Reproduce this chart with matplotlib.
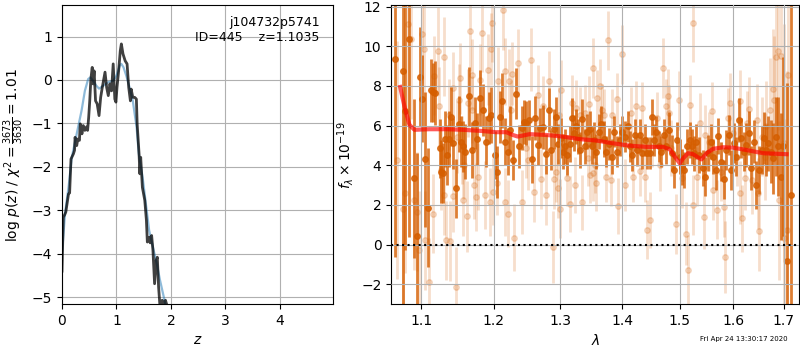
import matplotlib as mpl
mpl.use('agg')

import matplotlib.pyplot as plt
from matplotlib.ticker import NullLocator

# ---- left panel: log p(z)
z_pz = [0.0, 0.024, 0.05, 0.07, 0.12, 0.14, 0.165, 0.21, 0.23, 0.24, 0.27, 0.29, 0.32, 0.335,
        0.366, 0.39, 0.42, 0.45, 0.47, 0.49, 0.51, 0.53, 0.555, 0.57, 0.59, 0.616, 0.646, 0.68,
        0.71, 0.74, 0.79, 0.82, 0.85, 0.88, 0.91, 0.94, 0.97, 0.99, 1.01, 1.04, 1.07, 1.09,
        1.12, 1.16, 1.195, 1.225, 1.256, 1.27, 1.30, 1.335, 1.366, 1.38, 1.415, 1.43, 1.445,
        1.476, 1.52, 1.55, 1.567, 1.60, 1.62, 1.646, 1.67, 1.70, 1.73, 1.75, 1.774, 1.80,
        1.84, 1.87, 1.90, 1.93]
logp = [-4.4, -3.16, -3.1, -3.04, -2.62, -2.6, -1.82, -1.70, -1.62, -1.32, -1.51, -1.36, -1.39,
        -1.01, -1.24, -1.05, -1.16, -1.08, -1.16, -0.86, -0.47, 0.02, 0.29, -0.09, 0.21, -0.48,
        -0.55, -0.82, -0.40, -0.17, 0.18, -0.17, -0.36, -0.09, -0.25, 0.37, -0.44, -0.51, -0.17,
        0.21, 0.67, 0.83, 0.60, 0.44, 0.37, -0.17, -0.48, -0.21, -0.40, -0.40, -0.44, -1.01,
        -1.70, -2.16, -1.78, -2.47, -2.77, -3.23, -3.73, -3.62, -3.75, -3.58, -3.92, -4.69,
        -4.15, -4.08, -4.77, -5.23, -5.07, -5.15, -5.07, -5.2]

z_smooth = [0.0, 0.055, 0.12, 0.18, 0.27, 0.36, 0.42, 0.48, 0.52, 0.57, 0.63, 0.68, 0.76, 0.85,
            0.94, 1.0, 1.06, 1.09, 1.13, 1.18, 1.24, 1.30, 1.37, 1.41, 1.48, 1.54, 1.60, 1.67,
            1.74, 1.80, 1.87, 1.91]
logp_smooth = [-4.0, -3.08, -2.47, -1.78, -1.24, -0.70, -0.25, 0.02, 0.06, -0.02, -0.13, -0.20,
               -0.13, -0.05, -0.02, 0.10, 0.33, 0.37, 0.29, 0.10, -0.17, -0.48, -1.09, -1.70,
               -2.24, -2.85, -3.46, -3.85, -4.23, -4.61, -5.0, -5.23]

# ---- right panel: binned spectrum (dark)
lam_bin = [1.0656, 1.0759, 1.0794, 1.0837, 1.0903, 1.0942, 1.0978, 1.1013, 1.1048, 1.1088,
           1.1128, 1.1154, 1.1187, 1.1245, 1.1268, 1.1289, 1.1322, 1.1343, 1.1380, 1.1404,
           1.1426, 1.1467, 1.1509, 1.1542, 1.1573, 1.1601, 1.1648, 1.1690, 1.1728, 1.1760,
           1.1808, 1.1845, 1.1894, 1.1931, 1.1965,
           1.2013, 1.2046, 1.2085, 1.2124, 1.2163, 1.2202, 1.2241, 1.2281, 1.2320, 1.2369,
           1.2409, 1.2444, 1.2479, 1.2519, 1.2559, 1.2610, 1.2650, 1.2691, 1.2731, 1.2783,
           1.2824, 1.2860, 1.2896, 1.2937, 1.2963, 1.3005, 1.3041, 1.3073, 1.3104, 1.3146,
           1.3178, 1.3209, 1.3241, 1.3278, 1.3316, 1.3348, 1.3385, 1.3423, 1.3466, 1.3509,
           1.3531, 1.3574, 1.3618, 1.3656, 1.3695, 1.3738, 1.3782, 1.3827, 1.3871, 1.3916,
           1.3960, 1.4005, 1.4050, 1.4095, 1.4129, 1.4175, 1.4214, 1.4254, 1.4300, 1.4346,
           1.4386, 1.4426, 1.4473, 1.4513, 1.4554, 1.4589, 1.4636, 1.4677, 1.4718, 1.4753,
           1.4813, 1.4860, 1.4908, 1.4956, 1.5004, 1.5046, 1.5088, 1.5136, 1.5185, 1.5234,
           1.5271, 1.5308, 1.5357, 1.5431, 1.5474, 1.5524, 1.5573, 1.5617, 1.5668, 1.5718,
           1.5774, 1.5825, 1.5870, 1.5920, 1.5965, 1.6016, 1.6061, 1.6106, 1.6158, 1.6210,
           1.6256, 1.6308, 1.6354, 1.6400, 1.6452, 1.6505, 1.6552, 1.6598, 1.6638, 1.6691,
           1.6738, 1.6785, 1.6839, 1.6886, 1.6934, 1.6988, 1.7070, 1.7139]
flux_bin = [9.37, 8.78, 6.72, 10.38, 3.34, 0.42, 8.46, 7.36, 4.30, 1.87,
            7.78, 7.68, 7.65, 4.86, 3.68, 3.60, 5.32, 4.52, 5.32, 6.46,
            5.11, 2.84, 6.09, 5.20, 4.95, 4.69, 7.48, 4.78, 6.13, 5.32,
            7.39, 6.80, 5.20, 6.38, 6.55,
            4.52, 3.65, 6.43, 7.26, 5.20, 4.69, 5.79, 4.27, 7.61, 4.95,
            5.87, 6.18, 6.13, 6.30, 4.30, 6.38, 5.03, 5.87, 5.92, 4.57,
            6.80, 4.78, 5.82, 6.46, 5.08, 5.37, 4.69, 4.95, 4.52, 5.08,
            6.38, 5.62, 5.96, 5.45, 4.78, 6.33, 4.95, 5.70, 5.82, 4.95,
            5.28, 4.69, 5.70, 6.09, 5.32, 4.69, 5.08, 4.44, 5.70, 4.69,
            5.28, 5.70, 5.45, 5.96, 4.95, 4.52, 5.54, 4.78, 5.54, 4.61,
            5.28, 4.61, 4.61, 6.43, 5.28, 5.70, 4.95, 4.69, 5.54, 4.95,
            5.79, 4.61, 3.76, 5.28, 4.44, 3.93, 3.76, 4.95, 5.28, 4.95,
            4.60, 5.20, 4.52, 3.85, 3.43, 4.61, 5.20, 4.44, 3.76, 5.49,
            4.19, 3.29, 4.78, 5.54, 3.76, 5.11, 4.44, 6.30, 5.37, 4.69,
            5.03, 5.62, 3.85, 5.20, 3.00, 3.76, 4.78, 5.37, 4.78, 5.11,
            4.69, 4.35, 5.45, 4.95, 3.43, 4.95, -0.84, 2.50]
err_bin = [10, 12, 7, 10, 4, 4.2, 2.5, 2.2, 3.4, 3.0,
           1.6, 1.5, 1.6, 1.5, 1.6, 1.5, 1.4, 1.5, 1.4, 1.5,
           1.3, 1.5, 1.4, 1.3, 1.3, 1.4, 1.5, 1.4, 1.3, 1.3,
           1.4, 1.3, 1.3, 1.3, 1.4,
           1.2, 1.3, 1.3, 1.4, 1.2, 1.2, 1.2, 1.0, 1.3, 1.1,
           1.1, 1.1, 1.1, 1.0, 1.2, 1.1, 1.0, 1.0, 1.1, 1.0,
           1.1, 1.0, 1.0, 1.0, 1.0, 1.0, 0.9, 0.9, 1.0, 0.9,
           1.0, 0.9, 0.9, 0.9, 0.9, 1.0, 0.9, 0.9, 0.9, 0.9,
           0.9, 0.9, 0.9, 0.9, 0.9, 0.8, 0.8, 0.9, 0.8, 0.8,
           0.8, 0.8, 0.8, 0.8, 0.8, 0.8, 0.8, 0.8, 0.8, 0.8,
           0.8, 0.8, 0.8, 0.9, 0.8, 0.8, 0.8, 0.8, 0.8, 0.9,
           0.9, 0.9, 0.9, 0.9, 0.9, 0.9, 0.9, 0.9, 0.9, 0.9,
           0.9, 0.9, 0.9, 0.9, 1.0, 0.9, 0.9, 0.9, 1.0, 0.9,
           1.0, 1.0, 1.0, 1.0, 1.0, 1.0, 1.0, 1.1, 1.0, 1.0,
           1.1, 1.1, 1.1, 1.1, 1.2, 1.2, 1.2, 1.3, 1.3, 1.4,
           1.6, 1.8, 2.0, 2.5, 3.2, 4.5, 9, 12]

# ---- right panel: individual beams (light)
lam_beam = [1.0679, 1.0756, 1.0792, 1.0824, 1.0860, 1.0905, 1.0951, 1.0973, 1.1009, 1.1041,
            1.1055, 1.1109, 1.1154, 1.1177, 1.1222, 1.1235, 1.1267, 1.1303, 1.1312, 1.1335,
            1.1380, 1.1394, 1.1425, 1.1434, 1.1470, 1.1478, 1.1516, 1.1529, 1.1552, 1.1561,
            1.1583, 1.1620, 1.1629, 1.1665, 1.1687, 1.1696, 1.1719, 1.1742, 1.1773, 1.1809,
            1.1837, 1.1877, 1.1922, 1.1945, 1.1977,
            1.1960, 1.1992, 1.2053, 1.2069, 1.2130, 1.2165, 1.2171, 1.2206, 1.2222, 1.2257,
            1.2273, 1.2298, 1.2349, 1.2410, 1.2477, 1.2502, 1.2543, 1.2594, 1.2655, 1.2696,
            1.2732, 1.2783, 1.2818, 1.2885, 1.2900, 1.2925, 1.2961, 1.2987, 1.3002, 1.3012,
            1.3104, 1.3150, 1.3191, 1.3227, 1.3247, 1.3318, 1.3344, 1.3395, 1.3446, 1.3461,
            1.3471, 1.3512,
            1.3524, 1.3552, 1.3569, 1.3593, 1.3627, 1.3667, 1.3708, 1.3725, 1.3765, 1.3811,
            1.3840, 1.3915, 1.3938, 1.4001, 1.4053, 1.4144, 1.4185, 1.4231, 1.4300, 1.4340,
            1.4386, 1.4432, 1.4472, 1.4518, 1.4599, 1.4645, 1.4708, 1.4754, 1.4788, 1.4811,
            1.4846, 1.4938, 1.4990, 1.5047, 1.5116, 1.5145, 1.5191, 1.5237, 1.5249,
            1.5315, 1.5380, 1.5445, 1.5458, 1.5543, 1.5589, 1.5608, 1.5693, 1.5771, 1.5816,
            1.5836, 1.5901, 1.5934, 1.5999, 1.6064, 1.6129, 1.6135, 1.6175, 1.6227, 1.6259,
            1.6305, 1.6357, 1.6454, 1.6487, 1.6500, 1.6552, 1.6617, 1.6650, 1.6715, 1.6780,
            1.6799, 1.6852, 1.6891, 1.6910, 1.6943, 1.7008, 1.7010, 1.7073, 1.7086]
flux_beam = [4.27, 1.82, 2.58, 11.10, 10.35, 2.24, 1.65, -0.29, 10.63, 9.84,
             0.22, -1.86, 1.57, 8.52, 9.76, 6.97, 3.76, 2.50, 9.47, 0.22,
             6.55, 0.19, 2.45, 7.90, -2.14, 5.42, 7.31, 8.39, 4.78, 2.24,
             4.02, 1.43, 7.14, 10.77, 8.57, 6.80, 3.00, 2.41, 3.43, 8.32,
             10.68, 2.50, 8.83, 2.16, 11.19,
             9.87, 2.67, 3.09, 8.24, 11.81, 2.16, 8.74, 1.57, 8.27, 6.80,
             8.62, 0.35, 9.16, 2.16, 4.86, 4.27, 9.33, 2.63, 7.56, 3.31,
             7.00, 2.50, 8.24, -0.12, 3.31, 3.65, 2.84, 6.55, 1.82, 7.81,
             3.34, 2.04, 7.14, 3.00, 6.89, 6.55, 2.13, 6.63, 4.35, 7.09,
             3.51, 3.59,
             8.91, 4.02, 3.09, 7.39, 7.98, 6.80, 6.55, 3.43, 10.30, 3.26,
             6.55, 7.34, 1.94, 9.59, 3.00, 6.63, 3.43, 6.97, 3.73, 6.89,
             3.43, 0.76, 1.23, 5.20, 6.38, 4.02, 8.91, 6.97, 7.48, 6.63,
             4.86, 1.03, 7.27, 3.34, 0.56, -1.30, 7.05, 11.19, 1.99,
             3.43, 6.13, 1.40, 5.54, 5.20, 6.72, 2.75, 1.77, 3.68, 1.91,
             -0.62, 6.38, 7.14, 5.62, 4.44, 7.22, 2.62, 1.32, 3.34, 6.13,
             6.84, 3.26, 6.30, 2.58, 0.68, 5.45, 4.44, 5.96, 6.80, 7.85,
             7.31, 9.47, 9.76, 2.24, 9.50, 5.11, 0.35, 0.76, 8.57]
err_beam = [6, 5, 4, 5, 4, 3.5, 3, 3, 2.5, 2.5,
            2.5, 2.2, 2.0, 2.0, 2.2, 2.0, 2.0, 2.0, 2.0, 2.0,
            1.8, 2.0, 1.8, 1.8, 2.0, 1.8, 1.8, 1.8, 1.7, 1.8,
            1.7, 1.8, 1.7, 2.0, 1.8, 1.7, 1.7, 1.7, 1.7, 1.8,
            2.0, 1.7, 1.8, 1.7, 2.0,
            1.8, 1.7, 1.6, 1.7, 2.0, 1.7, 1.7, 1.7, 1.6, 1.5,
            1.6, 1.7, 1.7, 1.6, 1.5, 1.5, 1.6, 1.5, 1.5, 1.5,
            1.5, 1.5, 1.5, 1.8, 1.5, 1.5, 1.5, 1.4, 1.5, 1.5,
            1.4, 1.4, 1.4, 1.4, 1.4, 1.4, 1.4, 1.4, 1.4, 1.4,
            1.4, 1.4,
            1.5, 1.4, 1.4, 1.4, 1.4, 1.3, 1.3, 1.3, 1.5, 1.3,
            1.3, 1.3, 1.4, 1.5, 1.3, 1.3, 1.3, 1.3, 1.3, 1.3,
            1.3, 1.5, 1.4, 1.3, 1.3, 1.3, 1.5, 1.4, 1.4, 1.4,
            1.4, 1.5, 1.5, 1.5, 1.6, 1.8, 1.5, 2.0, 1.5,
            1.5, 1.5, 1.6, 1.5, 1.5, 1.5, 1.5, 1.5, 1.5, 1.5,
            1.8, 1.5, 1.5, 1.5, 1.5, 1.6, 1.6, 1.7, 1.6, 1.6,
            1.6, 1.7, 1.8, 1.8, 2.0, 2.0, 2.2, 2.3, 2.6, 3.0,
            3.2, 3.5, 4, 4, 5, 6, 6, 8, 8]

# ---- best-fit model
lam_model = [1.0726, 1.0781, 1.0846, 1.0912, 1.1110, 1.1336, 1.1564, 1.1798, 1.2037, 1.2183,
             1.2279, 1.2353, 1.2428, 1.2528, 1.2782, 1.3039, 1.3304, 1.3574, 1.3848, 1.4129,
             1.4415, 1.4706, 1.4825, 1.4914, 1.5004, 1.5064, 1.5155, 1.5246, 1.5338, 1.5401,
             1.5494, 1.5617, 1.5806, 1.5997, 1.6257, 1.6585, 1.7057]
flux_model = [7.95, 6.97, 6.04, 5.79, 5.82, 5.82, 5.79, 5.74, 5.67, 5.67,
              5.53, 5.45, 5.50, 5.57, 5.53, 5.45, 5.32, 5.25, 5.11, 4.99,
              4.93, 4.93, 4.81, 4.44, 4.10, 4.35, 4.61, 4.56, 4.40, 4.30,
              4.61, 4.83, 4.91, 4.89, 4.77, 4.61, 4.56]

lam_ticks = [1.1, 1.2, 1.3, 1.4, 1.5, 1.6, 1.7]
g141_color = (0.8352941176470589, 0.3686274509803922, 0.0)

fig = plt.figure(figsize=(8, 3.5), dpi=100)

ax = fig.add_axes([0.0775, 0.131, 0.339, 0.854])
ax.plot(z_smooth, logp_smooth, color='C0', alpha=0.5, lw=1.6)
ax.plot(z_pz, logp, color='k', alpha=0.75, lw=2)
ax.set_xlim(0, 4.98)
ax.set_ylim(-5.16, 1.72)
ax.set_xticks([0, 1, 2, 3, 4])
ax.set_yticks([-5, -4, -3, -2, -1, 0, 1])
ax.grid()
ax.set_xlabel(r'$z$')
ax.set_ylabel(r'log $p(z)$ / $\chi^2=\frac{3673}{3630}=1.01$')
ax.text(0.95, 0.965, 'j104732p5741\nID=445    z=1.1035', transform=ax.transAxes,
        ha='right', va='top', fontsize=9)

ax2 = fig.add_axes([0.489, 0.131, 0.51, 0.854])
ax2.errorbar(lam_beam, flux_beam, yerr=err_beam, color=g141_color, alpha=0.2,
             marker='o', ms=4, linestyle='None', elinewidth=2)
ax2.errorbar(lam_bin, flux_bin, yerr=err_bin, color=g141_color, alpha=0.8,
             marker='o', ms=4, linestyle='None', elinewidth=2)
ax2.plot(lam_model, flux_model, color='r', alpha=0.65, lw=3, zorder=5)
ax2.axhline(0, color='k', linestyle=':', lw=1.5, zorder=6)
ax2.set_xscale('log')
ax2.set_xticks(lam_ticks)
ax2.set_xticklabels([str(t) for t in lam_ticks])
ax2.xaxis.set_minor_locator(NullLocator())
ax2.set_xlim(1.0611, 1.7318)
ax2.set_ylim(-3.0, 12.07)
ax2.set_yticks([-2, 0, 2, 4, 6, 8, 10, 12])
ax2.set_axisbelow(False)
ax2.grid()
ax2.set_xlabel(r'$\lambda$')
ax2.set_ylabel(r'$f_\lambda\times10^{-19}$')

fig.text(0.985, 0.022, 'Fri Apr 24 13:30:17 2020', ha='right', va='bottom', fontsize=5)

fig.savefig('out.png', dpi=100)
